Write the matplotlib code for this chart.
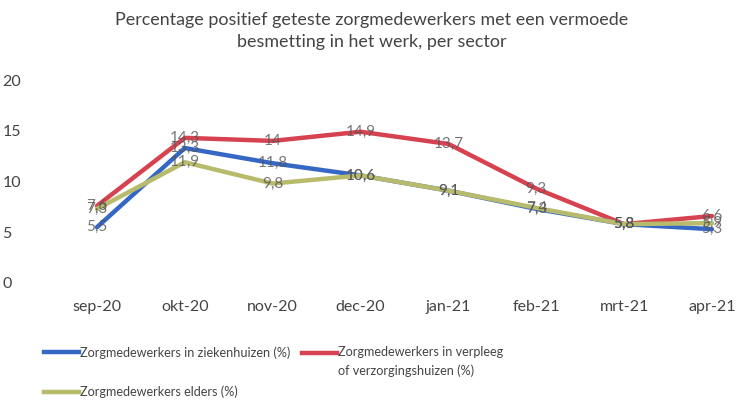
import matplotlib
matplotlib.use("Agg")
import matplotlib.pyplot as plt
from matplotlib.lines import Line2D
from matplotlib.legend_handler import HandlerLine2D

months = ["sep-20", "okt-20", "nov-20", "dec-20", "jan-21", "feb-21", "mrt-21", "apr-21"]
ziekenhuizen = [5.5, 13.3, 11.8, 10.6, 9.1, 7.3, 5.8, 5.3]
verpleeg = [7.6, 14.3, 14.0, 14.9, 13.7, 9.3, 5.8, 6.6]
elders = [7.3, 11.9, 9.8, 10.6, 9.1, 7.4, 5.8, 5.9]
yticks = [0, 5, 10, 15, 20]

labels = ["Zorgmedewerkers in ziekenhuizen (%)",
          "Zorgmedewerkers in verpleeg\nof verzorgingshuizen (%)",
          "Zorgmedewerkers elders (%)"]
colors = ["#3567c4", "#d6424f", "#b8ba6c"]

plt.rcParams['font.family'] = ['Lato', 'DejaVu Sans']
W, H = 741, 404
fig = plt.figure(figsize=(W / 100, H / 100), dpi=100)
# axes: y=0 at 283px, y=20 at 80px; x=0 at 97px, x=7 at 712px
ax = fig.add_axes([40 / W, (H - 283) / H, (741 - 40) / W, (283 - 80) / H])
pxu = (712 - 97) / 7
ax.set_xlim((40 - 97) / pxu, (741 - 97) / pxu)
ax.set_ylim(0, 20)

x = list(range(len(months)))
series = [ziekenhuizen, verpleeg, elders]
for i in [1, 0, 2]:
    ax.plot(x, series[i], color=colors[i], lw=3.2, solid_capstyle='round',
            solid_joinstyle='round', clip_on=False, zorder=2)
for i in [0, 1, 2]:
    for xi, v in zip(x, series[i]):
        ax.text(xi, v, f"{v:g}".replace(".", ","), ha='center', va='center',
                fontsize=11, color='#555555', alpha=0.8, zorder=5)

for sp in ax.spines.values():
    sp.set_visible(False)
ax.set_xticks(x)
ax.set_xticklabels(months, fontsize=11.5, color='#444444')
ax.set_yticks(yticks)
ax.set_yticklabels([str(t) for t in yticks], fontsize=11.5, color='#444444')
ax.tick_params(length=0)
ax.tick_params(axis='x', pad=12)
ax.tick_params(axis='y', pad=12)
for lab in ax.get_yticklabels():
    lab.set_horizontalalignment('left')
    lab.set_x(-0.03)

fig.text(372 / W, 1 - 12 / H,
         "Percentage positief geteste zorgmedewerkers met een vermoede\nbesmetting in het werk, per sector",
         ha='center', va='top', fontsize=12.9, color='#444444', linespacing=1.45)


class TopHandler(HandlerLine2D):
    def create_artists(self, legend, orig_handle, xdescent, ydescent, width,
                       height, fontsize, trans):
        arts = super().create_artists(legend, orig_handle, xdescent, ydescent,
                                      width, height, fontsize, trans)
        for a in arts:
            a.set_ydata([y + fontsize * 0.78 for y in a.get_ydata()])
        return arts


LFS = 9.1
h = [Line2D([0], [0], color=c, lw=3.2) for c in colors]
leg1 = fig.legend([h[0], h[2]], [labels[0], labels[2]], loc='upper left',
                  bbox_to_anchor=(33 / W, 1 - 335 / H), frameon=False,
                  fontsize=LFS, handlelength=2.75, handletextpad=0.1,
                  labelspacing=2.1, labelcolor='#444444')
leg2 = fig.legend([h[1]], [labels[1]], loc='upper left',
                  bbox_to_anchor=(291 / W, 1 - 335 / H), frameon=False,
                  fontsize=LFS, handlelength=2.75, handletextpad=0.1,
                  labelcolor='#444444',
                  handler_map={h[1]: TopHandler()})
for t in leg2.get_texts():
    t.set_linespacing(1.6)

fig.savefig("out.png", dpi=100)
